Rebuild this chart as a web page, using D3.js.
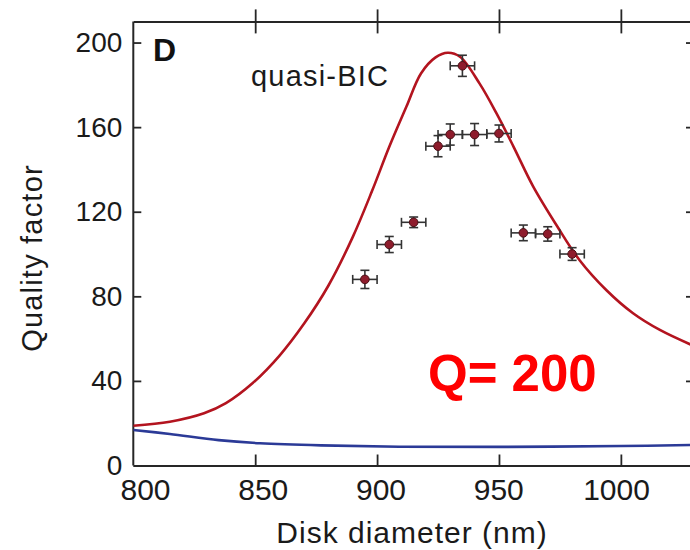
<!DOCTYPE html>
<html>
<head>
<meta charset="utf-8">
<script src="https://cdn.jsdelivr.net/npm/d3@7"></script>
<style>
  html, body { margin: 0; padding: 0; background: #fff; }
  svg { display: block; font-family: "Liberation Sans", Arial, Helvetica, sans-serif; }
</style>
</head>
<body>
<svg id="chart" width="690" height="550"></svg>
<script>
// Measured quality factors (disk diameter in nm, Q with error bars)
const diameters = [895, 905, 915, 925, 930, 935, 940, 950, 960, 970, 980];
const qMeasured = [88, 104.5, 115, 151, 156.5, 189, 156.5, 157, 110, 109.5, 100];
const qError    = [4.3, 3.8, 2.5, 5, 5, 5, 5.2, 4, 3.7, 3.4, 3];
const dError    = [5, 5, 5, 5, 5, 5, 5, 5, 5, 5, 5];

// Simulated quasi-BIC resonance (red)
const bicD = [800, 815, 829, 838, 849, 860, 870, 880, 890, 898, 905, 912, 918, 924, 929, 934, 942, 949, 956, 964, 974, 983, 994, 1005, 1016, 1030];
const bicQ = [18.8, 20.7, 24.7, 29.5, 39, 52, 67, 85, 108, 130, 150.7, 169.6, 185.4, 193, 195.2, 193.3, 180.7, 166.5, 150.7, 132, 112.9, 97.2, 83, 72, 64.1, 56.5];

// Simulated reference mode (blue)
const refD = [800, 815, 835, 852, 877, 909, 950, 1000, 1030];
const refQ = [16.8, 14.9, 12, 10.5, 9.5, 8.9, 8.8, 9.2, 9.7];

// Axis ticks
const xTicks = [800, 850, 900, 950, 1000];
const yTicks = [0, 40, 80, 120, 160, 200];

const svg = d3.select("#chart");

const x = d3.scaleLinear().domain([800, 1030]).range([133.3, 694]);
const y = d3.scaleLinear().domain([0, 210]).range([465.5, 21.4]);
// tick labels sit on a slightly tighter spacing than the tick marks
const xLabel = d3.scaleLinear().domain([800, 1000]).range([145, 616]);

const axisColor = "#262626";

// Clip for curves
svg.append("defs").append("clipPath").attr("id", "plot-clip")
  .append("rect")
  .attr("x", x(800)).attr("y", y(210))
  .attr("width", x(1030) - x(800)).attr("height", y(0) - y(210));

// Frame axes
const gBottom = svg.append("g").attr("transform", `translate(0,${y(0)})`)
  .call(d3.axisBottom(x).tickValues(xTicks.slice(1)).tickSizeInner(-11).tickSizeOuter(0).tickFormat(""));
const gBottomLabels = svg.append("g").attr("transform", `translate(0,${y(0)})`)
  .call(d3.axisBottom(xLabel).tickValues(xTicks).tickSize(0).tickPadding(13).tickFormat(d3.format("d")));
gBottomLabels.select(".domain").remove();
const gTop = svg.append("g").attr("transform", `translate(0,${y(210)})`)
  .call(d3.axisTop(x).tickValues(xTicks.slice(1)).tickSizeInner(12).tickSizeOuter(0).tickFormat(""));
// top ticks cross the frame line
gTop.selectAll(".tick line").attr("y1", 12).attr("y2", -12);
const gLeft = svg.append("g").attr("transform", `translate(${x(800)},0)`)
  .call(d3.axisLeft(y).tickValues(yTicks).tickSizeInner(-8).tickSizeOuter(0).tickPadding(11));
const gRight = svg.append("g").attr("transform", `translate(${x(1030)},0)`)
  .call(d3.axisRight(y).tickValues(yTicks.slice(1)).tickSizeInner(-8).tickSizeOuter(0).tickFormat(""));

[gBottom, gTop, gLeft, gRight].forEach(g => {
  g.select(".domain").attr("stroke", axisColor).attr("stroke-width", 2);
  g.selectAll(".tick line").attr("stroke", axisColor).attr("stroke-width", 1.8);
});
[gBottomLabels, gLeft].forEach(g => {
  g.selectAll(".tick text").attr("fill", "#1a1a1a").attr("font-family", "Liberation Sans, Arial, sans-serif");
});
gBottomLabels.selectAll(".tick text").attr("font-size", 30).attr("dy", "0.71em");
gLeft.selectAll(".tick text").attr("font-size", 28);
// keep the left/top corner closed
gLeft.select(".domain").attr("d", `M0,${y(210)}V${y(0)}`);

// Curves
const line = d3.line().curve(d3.curveCatmullRom.alpha(0.5));
const plot = svg.append("g").attr("clip-path", "url(#plot-clip)");

plot.append("path")
  .attr("d", line(refD.map((d, i) => [x(d), y(refQ[i])])))
  .attr("fill", "none").attr("stroke", "#2b3a97").attr("stroke-width", 2.6);

plot.append("path")
  .attr("d", line(bicD.map((d, i) => [x(d), y(bicQ[i])])))
  .attr("fill", "none").attr("stroke", "#b3141f").attr("stroke-width", 2.6);

// Measured points with error bars
const pts = diameters.map((d, i) => ({ d, q: qMeasured[i], eq: qError[i], ed: dError[i] }));
const gp = svg.append("g").attr("stroke", "#333").attr("stroke-width", 1.6);
const cap = 4.5;
pts.forEach(p => {
  const cx = x(p.d), cy = y(p.q);
  const x0 = x(p.d - p.ed), x1 = x(p.d + p.ed);
  const y0 = y(p.q - p.eq), y1 = y(p.q + p.eq);
  gp.append("line").attr("x1", x0).attr("x2", x1).attr("y1", cy).attr("y2", cy);
  gp.append("line").attr("x1", cx).attr("x2", cx).attr("y1", y0).attr("y2", y1);
  gp.append("line").attr("x1", x0).attr("x2", x0).attr("y1", cy - cap).attr("y2", cy + cap);
  gp.append("line").attr("x1", x1).attr("x2", x1).attr("y1", cy - cap).attr("y2", cy + cap);
  gp.append("line").attr("x1", cx - cap).attr("x2", cx + cap).attr("y1", y0).attr("y2", y0);
  gp.append("line").attr("x1", cx - cap).attr("x2", cx + cap).attr("y1", y1).attr("y2", y1);
});
svg.append("g").selectAll("circle").data(pts).join("circle")
  .attr("cx", p => x(p.d)).attr("cy", p => y(p.q)).attr("r", 4.3)
  .attr("fill", "#8e1c2c").attr("stroke", "#4a1016").attr("stroke-width", 1);

// Labels
svg.append("text").attr("x", 153).attr("y", 61)
  .attr("font-size", 32).attr("font-weight", "bold").attr("fill", "#111").text("D");
svg.append("text").attr("x", 251).attr("y", 86)
  .attr("font-size", 29).attr("letter-spacing", 1.2).attr("fill", "#1a1a1a").text("quasi-BIC");
svg.append("text").attr("x", 428).attr("y", 391)
  .attr("font-size", 51).attr("font-weight", "bold").attr("fill", "#ff0000").text("Q= 200");

svg.append("text").attr("x", 412).attr("y", 543).attr("text-anchor", "middle")
  .attr("font-size", 30).attr("letter-spacing", 1).attr("fill", "#1a1a1a").text("Disk diameter (nm)");
svg.append("text").attr("transform", "translate(42,258) rotate(-90)").attr("text-anchor", "middle")
  .attr("font-size", 29).attr("letter-spacing", 1.2).attr("fill", "#1a1a1a").text("Quality factor");
</script>
</body>
</html>
